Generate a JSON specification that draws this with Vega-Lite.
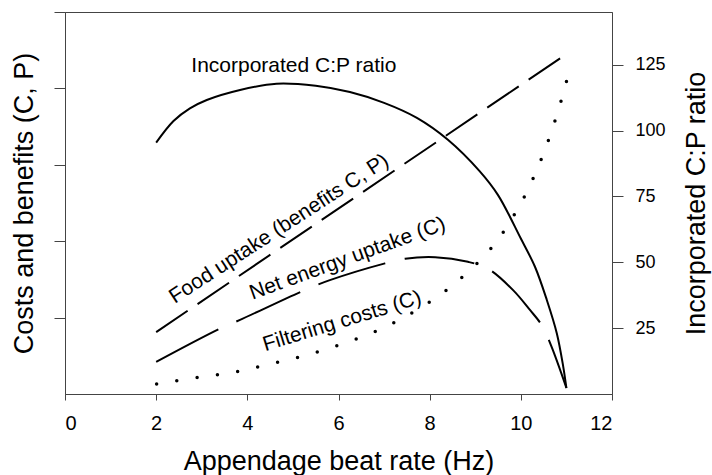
{
  "$schema": "https://vega.github.io/schema/vega-lite/v6.json",
  "width": 547,
  "height": 382,
  "autosize": "none",
  "padding": {"left": 65, "top": 12, "right": 100, "bottom": 81},
  "background": "white",
  "config": {
    "font": "Liberation Sans",
    "view": {"stroke": "#444", "strokeWidth": 1},
    "axis": {
      "grid": false,
      "domainColor": "#444",
      "tickColor": "#444",
      "labelColor": "#000",
      "titleColor": "#000",
      "labelFont": "Liberation Sans",
      "titleFont": "Liberation Sans",
      "titleFontWeight": "normal"
    }
  },
  "datasets": {
    "food": [
      {"x": 2, "y": 0.81},
      {"x": 11, "y": 4.45}
    ],
    "net": [
      {"x": 2, "y": 0.42},
      {"x": 3.38, "y": 0.85},
      {"x": 3.84, "y": 0.97},
      {"x": 5.22, "y": 1.35},
      {"x": 5.81, "y": 1.49},
      {"x": 7.02, "y": 1.71},
      {"x": 7.46, "y": 1.77},
      {"x": 8.12, "y": 1.79},
      {"x": 8.84, "y": 1.73},
      {"x": 9.28, "y": 1.64},
      {"x": 9.83, "y": 1.36},
      {"x": 10.2, "y": 1.1},
      {"x": 10.46, "y": 0.9},
      {"x": 10.66, "y": 0.64},
      {"x": 11, "y": 0.08}
    ],
    "filter": [
      {"x": 2.01, "y": 0.13},
      {"x": 2.84, "y": 0.21},
      {"x": 3.66, "y": 0.28},
      {"x": 4.48, "y": 0.39},
      {"x": 5.3, "y": 0.51},
      {"x": 6.11, "y": 0.66},
      {"x": 6.93, "y": 0.85},
      {"x": 7.75, "y": 1.11},
      {"x": 8.56, "y": 1.45},
      {"x": 9.35, "y": 1.91},
      {"x": 9.91, "y": 2.4},
      {"x": 10.32, "y": 2.89},
      {"x": 10.64, "y": 3.38},
      {"x": 10.9, "y": 3.87},
      {"x": 11.01, "y": 4.11}
    ],
    "cp": [
      {"x": 2.0, "ratio": 95.4},
      {"x": 2.38, "ratio": 103.6},
      {"x": 2.74, "ratio": 108.4},
      {"x": 3.11, "ratio": 111.6},
      {"x": 3.84, "ratio": 115.4},
      {"x": 4.64, "ratio": 117.8},
      {"x": 5.5, "ratio": 117.0},
      {"x": 6.25, "ratio": 114.6},
      {"x": 7.0, "ratio": 110.5},
      {"x": 7.72, "ratio": 104.8},
      {"x": 8.4, "ratio": 96.5},
      {"x": 9.1, "ratio": 84.5},
      {"x": 9.5, "ratio": 75.5},
      {"x": 10.0, "ratio": 59.0},
      {"x": 10.31, "ratio": 48.3},
      {"x": 10.57, "ratio": 35.7},
      {"x": 10.79, "ratio": 23.0},
      {"x": 10.93, "ratio": 10.4},
      {"x": 11.0, "ratio": 2.2}
    ]
  },
  "encoding": {
    "x": {
      "field": "x",
      "type": "quantitative",
      "scale": {"domain": [0, 12], "nice": false, "zero": false},
      "axis": {
        "values": [0, 2, 4, 6, 8, 10, 12],
        "tickSize": 6,
        "labelPadding": 13,
        "labelFontSize": 20,
        "title": "Appendage beat rate (Hz)",
        "titleFontSize": 27,
        "titlePadding": 15
      }
    }
  },
  "layer": [
    {
      "encoding": {
        "y": {
          "field": "y",
          "type": "quantitative",
          "scale": {"domain": [0, 5], "nice": false, "zero": false},
          "axis": {
            "orient": "left",
            "values": [1, 2, 3, 4, 5],
            "labels": false,
            "tickSize": 11,
            "title": "Costs and benefits (C, P)",
            "titleFontSize": 27,
            "titlePadding": 15
          }
        }
      },
      "layer": [
        {
          "data": {"name": "food"},
          "mark": {"type": "line", "color": "#000", "strokeWidth": 2, "strokeDash": [38, 12]}
        },
        {
          "data": {"name": "net"},
          "mark": {"type": "line", "color": "#000", "strokeWidth": 2, "strokeDash": [70, 20], "interpolate": "catmull-rom"}
        },
        {
          "data": {"name": "filter"},
          "mark": {"type": "line", "color": "#000", "strokeWidth": 3.5, "strokeCap": "round", "strokeDash": [0, 20.5], "interpolate": "catmull-rom"}
        },
        {
          "data": {"values": [{"x": 4.7, "y": 2.16, "label": "Food uptake (benefits C, P)"}]},
          "mark": {"type": "text", "fontSize": 21, "angle": 327, "align": "center", "baseline": "middle", "color": "#000"},
          "encoding": {"text": {"field": "label"}}
        },
        {
          "data": {"values": [{"x": 6.2, "y": 1.77, "label": "Net energy uptake (C)"}]},
          "mark": {"type": "text", "fontSize": 21, "angle": 340, "align": "center", "baseline": "middle", "color": "#000"},
          "encoding": {"text": {"field": "label"}}
        },
        {
          "data": {"values": [{"x": 6.08, "y": 0.95, "label": "Filtering costs (C)"}]},
          "mark": {"type": "text", "fontSize": 21, "angle": 343, "align": "center", "baseline": "middle", "color": "#000"},
          "encoding": {"text": {"field": "label"}}
        },
        {
          "data": {"values": [{"x": 5.02, "y": 4.29, "label": "Incorporated C:P ratio"}]},
          "mark": {"type": "text", "fontSize": 21, "align": "center", "baseline": "middle", "color": "#000"},
          "encoding": {"text": {"field": "label"}}
        }
      ]
    },
    {
      "data": {"name": "cp"},
      "mark": {"type": "line", "color": "#000", "strokeWidth": 2, "interpolate": "catmull-rom"},
      "encoding": {
        "y": {
          "field": "ratio",
          "type": "quantitative",
          "scale": {"domain": [0, 145], "nice": false, "zero": false},
          "axis": {
            "orient": "right",
            "values": [25, 50, 75, 100, 125],
            "tickSize": 11,
            "labelPadding": 12,
            "labelFontSize": 18,
            "title": "Incorporated C:P ratio",
            "titleAngle": 270,
            "titleBaseline": "top",
            "titleFontSize": 27,
            "titlePadding": 18
          }
        }
      }
    }
  ],
  "resolve": {"scale": {"y": "independent"}}
}
